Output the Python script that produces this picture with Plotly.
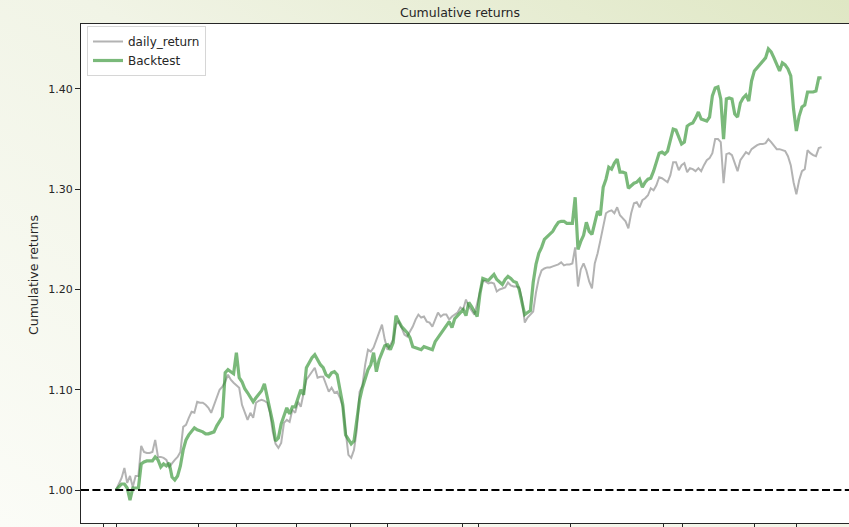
import base64
import plotly.graph_objects as go

# trading day index and cumulative returns
days = list(range(253))

daily_return = [
    1.000, 1.006, 1.012, 1.022, 1.007, 1.014, 1.003, 1.014, 1.014, 1.044,
    1.038, 1.037, 1.037, 1.038, 1.050, 1.033, 1.033, 1.032, 1.030, 1.023,
    1.027, 1.030, 1.033, 1.038, 1.063, 1.065, 1.072, 1.078, 1.077, 1.088,
    1.087, 1.087, 1.085, 1.082, 1.077, 1.085, 1.093, 1.100, 1.103, 1.108,
    1.115, 1.110, 1.107, 1.104, 1.102, 1.085, 1.078, 1.070, 1.077, 1.072,
    1.087, 1.089, 1.090, 1.089, 1.087, 1.077, 1.058, 1.046, 1.042, 1.047,
    1.067, 1.070, 1.068, 1.080, 1.077, 1.088, 1.083, 1.097, 1.110, 1.114,
    1.118, 1.122, 1.112, 1.113, 1.113, 1.105, 1.098, 1.102, 1.097, 1.098,
    1.092, 1.083, 1.057, 1.035, 1.032, 1.040, 1.060, 1.098, 1.104, 1.125,
    1.140, 1.138, 1.142, 1.150, 1.158, 1.165, 1.150, 1.140, 1.145, 1.150,
    1.165, 1.168, 1.162, 1.155, 1.153, 1.158, 1.163, 1.170, 1.175, 1.172,
    1.173, 1.168, 1.167, 1.163, 1.170, 1.177, 1.173, 1.175, 1.175, 1.170,
    1.173, 1.175, 1.177, 1.182, 1.180, 1.190, 1.183, 1.179, 1.175, 1.186,
    1.198, 1.209, 1.208, 1.206, 1.207, 1.206, 1.198, 1.200, 1.201, 1.202,
    1.207, 1.204, 1.203, 1.203, 1.202, 1.190, 1.167, 1.172, 1.175, 1.178,
    1.197, 1.211, 1.219, 1.221, 1.222, 1.222, 1.223, 1.224, 1.225, 1.227,
    1.224, 1.225, 1.225, 1.226, 1.242, 1.203, 1.220, 1.226, 1.219, 1.208,
    1.201, 1.226, 1.236, 1.249, 1.262, 1.276, 1.278, 1.279, 1.276, 1.282,
    1.274, 1.271, 1.268, 1.261, 1.276, 1.286, 1.287, 1.282, 1.289, 1.291,
    1.294, 1.301, 1.299, 1.304, 1.312, 1.311, 1.309, 1.307, 1.314, 1.327,
    1.327, 1.319, 1.324, 1.326, 1.317, 1.321, 1.320, 1.318, 1.321, 1.318,
    1.324, 1.329, 1.331, 1.336, 1.350, 1.350, 1.347, 1.306, 1.335, 1.336,
    1.334, 1.325, 1.318, 1.329, 1.333, 1.337, 1.335, 1.340, 1.342, 1.344,
    1.345, 1.345, 1.346, 1.350, 1.347, 1.344, 1.340, 1.340, 1.339, 1.338,
    1.333, 1.324, 1.307, 1.295, 1.309, 1.318, 1.320, 1.339, 1.336, 1.334,
    1.333, 1.341, 1.342,
]

backtest = [
    1.000, 1.003, 1.006, 1.006, 1.002, 0.990, 1.002, 1.002, 1.002, 1.026,
    1.028, 1.029, 1.029, 1.029, 1.033, 1.030, 1.023, 1.026, 1.024, 1.027,
    1.013, 1.010, 1.014, 1.024, 1.040, 1.050, 1.055, 1.058, 1.062, 1.060,
    1.059, 1.058, 1.056, 1.056, 1.057, 1.058, 1.064, 1.068, 1.073, 1.117,
    1.120, 1.118, 1.116, 1.137, 1.112, 1.108, 1.101, 1.097, 1.093, 1.088,
    1.092, 1.095, 1.099, 1.106, 1.093, 1.080, 1.067, 1.049, 1.052, 1.066,
    1.075, 1.082, 1.076, 1.083, 1.083, 1.092, 1.100, 1.095, 1.122, 1.127,
    1.132, 1.135, 1.130, 1.125, 1.122, 1.115, 1.113, 1.117, 1.118, 1.115,
    1.100, 1.085, 1.055, 1.050, 1.046, 1.049, 1.070, 1.090, 1.102, 1.110,
    1.120, 1.125, 1.137, 1.118, 1.130, 1.137, 1.144, 1.145, 1.140, 1.147,
    1.174, 1.168, 1.163, 1.160, 1.157, 1.152, 1.143, 1.142, 1.141, 1.140,
    1.143, 1.142, 1.141, 1.140, 1.148, 1.152, 1.157, 1.160, 1.165, 1.168,
    1.162, 1.171, 1.174, 1.177, 1.180, 1.174, 1.187, 1.183, 1.178, 1.173,
    1.196, 1.211, 1.210, 1.209, 1.212, 1.215, 1.210, 1.207, 1.205, 1.210,
    1.213, 1.211, 1.208, 1.207, 1.200, 1.187, 1.175, 1.177, 1.179, 1.207,
    1.225, 1.236, 1.242, 1.250, 1.253, 1.256, 1.258, 1.263, 1.267, 1.268,
    1.268, 1.266, 1.266, 1.266, 1.292, 1.240, 1.248, 1.254, 1.267, 1.258,
    1.255, 1.268, 1.278, 1.274, 1.302, 1.310, 1.322, 1.320, 1.326, 1.330,
    1.317, 1.317, 1.316, 1.301, 1.304, 1.306, 1.307, 1.310, 1.302, 1.307,
    1.310, 1.311, 1.318, 1.326, 1.336, 1.337, 1.335, 1.338, 1.348, 1.360,
    1.359, 1.352, 1.345, 1.347, 1.363, 1.365, 1.366, 1.371, 1.377, 1.370,
    1.369, 1.368, 1.372, 1.393, 1.401, 1.402, 1.390, 1.350, 1.390, 1.391,
    1.390, 1.375, 1.372, 1.386, 1.391, 1.394, 1.388, 1.408, 1.418, 1.421,
    1.425, 1.427, 1.431, 1.440, 1.437, 1.431, 1.424, 1.418, 1.426, 1.424,
    1.420, 1.413, 1.380, 1.358, 1.373, 1.382, 1.384, 1.397, 1.397, 1.397,
    1.398, 1.411, 1.411,
]

# date ticks (labels fall below the visible area)
x_tick_days = [-4.6, 0, 29.6, 42.9, 64.3, 83.9, 97.1, 123.6, 129.6,
               162.5, 195.7, 202.5, 228.2, 242.9]
y_ticks = [1.00, 1.10, 1.20, 1.30, 1.40]

W, H = 849, 527
FONT = "DejaVu Sans"
INK = "#262626"

# soft background gradient like the source page
svg = (
    f'<svg xmlns="http://www.w3.org/2000/svg" width="{W}" height="{H}">'
    '<defs><linearGradient id="g" x1="0" y1="1" x2="1" y2="0">'
    '<stop offset="0" stop-color="#fbfcf7"/>'
    '<stop offset="0.55" stop-color="#f1f4e6"/>'
    '<stop offset="1" stop-color="#dfe7c4"/>'
    '</linearGradient></defs>'
    f'<rect width="{W}" height="{H}" fill="url(#g)"/></svg>'
)
bg_src = "data:image/svg+xml;base64," + base64.b64encode(svg.encode()).decode()

fig = go.Figure()

fig.add_trace(go.Scatter(
    x=days, y=daily_return, mode="lines", name="daily_return",
    line=dict(color="rgba(128,128,128,0.6)", width=2),
))
fig.add_trace(go.Scatter(
    x=days, y=backtest, mode="lines", name="Backtest",
    line=dict(color="rgba(34,139,34,0.6)", width=3.2),
))

# white axes face over the gradient
fig.add_shape(type="rect", xref="x domain", yref="y domain",
              x0=0, x1=1, y0=0, y1=1, fillcolor="white",
              line=dict(width=0), layer="below")

# baseline at 1.0
fig.add_shape(type="line", xref="x domain", yref="y",
              x0=0, x1=1, y0=1.0, y1=1.0,
              line=dict(color="black", width=2, dash="8px,3.4px"),
              layer="above")

fig.add_layout_image(dict(
    source=bg_src, xref="paper", yref="paper", x=0, y=1,
    sizex=1, sizey=1, xanchor="left", yanchor="top",
    sizing="stretch", layer="below",
))

fig.add_annotation(
    text="Cumulative returns", textangle=-90, showarrow=False,
    xref="paper", yref="paper", x=33 / W, y=1 - 275 / H,
    xanchor="center", yanchor="middle",
    font=dict(family=FONT, size=12.5, color=INK),
)

fig.update_layout(
    width=W, height=H,
    margin=dict(l=0, r=0, t=0, b=0),
    paper_bgcolor="#f3f6ea",
    plot_bgcolor="white",
    font=dict(family=FONT, size=12, color=INK),
    title=dict(text="Cumulative returns", x=460 / W, xanchor="center",
               y=1 - 13 / H, yanchor="middle",
               font=dict(family=FONT, size=12.5, color=INK)),
    showlegend=True,
    legend=dict(x=87 / W, y=1 - 26 / H, xanchor="left", yanchor="top",
                bgcolor="rgba(255,255,255,0.85)", bordercolor="#d6d6d6",
                borderwidth=1, itemwidth=30,
                font=dict(family=FONT, size=12, color=INK)),
    xaxis=dict(domain=[81 / W, 1], range=[-12.5, 261.8],
               showline=True, linecolor=INK, linewidth=1.2, mirror=True,
               ticks="outside", ticklen=5, tickcolor=INK,
               tickvals=x_tick_days, showticklabels=False,
               showgrid=False, zeroline=False),
    yaxis=dict(domain=[4 / H, 503 / H], range=[0.9671, 1.4648],
               showline=True, linecolor=INK, linewidth=1.2,
               ticks="outside", ticklen=5, tickcolor=INK,
               tickvals=y_ticks, tickformat=".2f",
               tickfont=dict(family=FONT, size=11, color=INK),
               showgrid=False, zeroline=False),
)

fig.write_html("out.html", config={"displayModeBar": False},
               post_script="document.body.style.margin='0';")
